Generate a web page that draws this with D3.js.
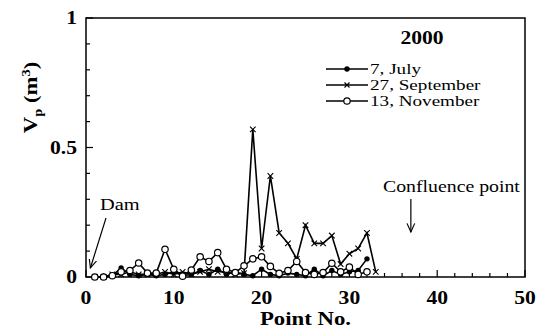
<!DOCTYPE html>
<html>
<head>
<meta charset="utf-8">
<script src="https://cdn.jsdelivr.net/npm/d3@7"></script>
<style>
  body { margin: 0; background: #fff; }
  svg { display: block; }
  text { font-family: "Liberation Serif", "Times New Roman", serif; fill: #000; }
</style>
</head>
<body>
<div id="chart"></div>
<script>
// point numbers along the river
const pointsA = d3.range(1, 33)   // July, November: 1..32
const pointsB = d3.range(1, 34)   // September: 1..33

const july = [0, 0, 0.005, 0.035, 0.01, 0.005, 0.01, 0.005, 0.01, 0.02, 0.005, 0.01, 0.025, 0.01, 0.03, 0.01,
              0.02, 0.01, 0.005, 0.03, 0.01, 0.005, 0.015, 0.01, 0.005, 0.03, 0.005, 0.025, 0.01, 0.02, 0.025, 0.07]
const september = [0, 0, 0.01, 0.01, 0.02, 0.01, 0.01, 0.01, 0.02, 0.01, 0.02, 0.01, 0.02, 0.03, 0.02, 0.02,
                   0.01, 0.015, 0.57, 0.11, 0.39, 0.17, 0.13, 0.07, 0.2, 0.13, 0.13, 0.16, 0.05, 0.09, 0.11, 0.17, 0.02]
const november = [0, 0, 0.005, 0.02, 0.025, 0.054, 0.015, 0.015, 0.107, 0.03, 0.003, 0.027, 0.078, 0.06, 0.094, 0.03,
                  0.017, 0.043, 0.07, 0.078, 0.041, 0.014, 0.025, 0.06, 0.017, 0.01, 0.017, 0.053, 0.02, 0.038, 0.01, 0.02]

const seriesNames = ['7, July', '27, September', '13, November']
const xTicks = [0, 10, 20, 30, 40, 50]
const yTicks = [0, 0.5, 1]

const width = 537, height = 333
const margin = {top: 18, right: 12, bottom: 56, left: 86}
const sx = 1.2   // the scanned Times is wider than Liberation Serif

const svg = d3.select('#chart').append('svg')
  .attr('width', width)
  .attr('height', height)

const x = d3.scaleLinear().domain([0, 50]).range([margin.left, width - margin.right])
const y = d3.scaleLinear().domain([0, 1]).range([height - margin.bottom, margin.top])

function label(px, py, str, size, bold, anchor, scale) {
  return svg.append('text')
    .attr('transform', `translate(${px},${py}) scale(${scale || sx},1)`)
    .attr('text-anchor', anchor || 'start')
    .attr('font-size', size)
    .attr('font-weight', bold ? 'bold' : 'normal')
    .text(str)
}

// frame
svg.append('rect')
  .attr('x', x(0)).attr('y', y(1))
  .attr('width', x(50) - x(0)).attr('height', y(0) - y(1))
  .attr('fill', 'none').attr('stroke', '#000').attr('stroke-width', 1.5)

// ticks (inward)
svg.append('g').selectAll('line')
  .data(d3.range(0, 51, 2))
  .join('line')
  .attr('x1', d => x(d)).attr('x2', d => x(d))
  .attr('y1', y(0)).attr('y2', d => y(0) - (d % 10 === 0 ? 7 : 4))
  .attr('stroke', '#000').attr('stroke-width', 1.2)

svg.append('g').selectAll('line')
  .data(d3.range(0, 1.01, 0.1))
  .join('line')
  .attr('y1', d => y(d)).attr('y2', d => y(d))
  .attr('x1', x(0)).attr('x2', (d, i) => x(0) + (i % 5 === 0 ? 7 : 4))
  .attr('stroke', '#000').attr('stroke-width', 1.2)

// tick labels
xTicks.forEach(t => label(x(t), y(0) + 27, String(t), 18, true, 'middle'))
yTicks.forEach(t => label(x(0) - 9, y(t) + 6, t === 0.5 ? '0.5' : String(t), 18, true, 'end'))

label((x(0) + x(50)) / 2, 325, 'Point No.', 19, true, 'middle')

const yl = svg.append('text')
  .attr('transform', `translate(37,${(y(0) + y(1)) / 2 - 50}) rotate(-90) scale(${sx},1)`)
  .attr('text-anchor', 'middle')
  .attr('font-size', 19).attr('font-weight', 'bold')
yl.append('tspan').text('V')
yl.append('tspan').attr('dy', 5).attr('font-size', 12).text('p')
yl.append('tspan').attr('dy', -5).text(' (m')
yl.append('tspan').attr('dy', -7).attr('font-size', 12).text('3')
yl.append('tspan').attr('dy', 7).text(')')

// series
const line = d3.line().x(d => x(d[0])).y(d => y(d[1]))
const sepData = pointsB.map((p, i) => [p, september[i]])
const julData = pointsA.map((p, i) => [p, july[i]])
const novData = pointsA.map((p, i) => [p, november[i]])

function drawX(g, px, py, s) {
  g.append('path')
    .attr('d', `M${px - s},${py - s}L${px + s},${py + s}M${px - s},${py + s}L${px + s},${py - s}`)
    .attr('stroke', '#000').attr('stroke-width', 1.1)
}

const gSep = svg.append('g')
gSep.append('path').datum(sepData).attr('d', line)
  .attr('fill', 'none').attr('stroke', '#000').attr('stroke-width', 1.6)
sepData.forEach(d => drawX(gSep, x(d[0]), y(d[1]), 2.8))

const gJul = svg.append('g')
gJul.append('path').datum(julData).attr('d', line)
  .attr('fill', 'none').attr('stroke', '#000').attr('stroke-width', 1.6)
gJul.selectAll('circle').data(julData).join('circle')
  .attr('cx', d => x(d[0])).attr('cy', d => y(d[1])).attr('r', 2.7)
  .attr('fill', '#000')

const gNov = svg.append('g')
gNov.append('path').datum(novData).attr('d', line)
  .attr('fill', 'none').attr('stroke', '#000').attr('stroke-width', 1.6)
gNov.selectAll('circle').data(novData).join('circle')
  .attr('cx', d => x(d[0])).attr('cy', d => y(d[1])).attr('r', 3.2)
  .attr('fill', '#fff').attr('stroke', '#000').attr('stroke-width', 1.2)

// legend
label(422, 44, '2000', 18, true, 'middle')

const legend = svg.append('g')
seriesNames.forEach((name, i) => {
  const ly = 69 + i * 16
  legend.append('line')
    .attr('x1', 326).attr('x2', 368).attr('y1', ly).attr('y2', ly)
    .attr('stroke', '#000').attr('stroke-width', 1.6)
  if (i === 0) {
    legend.append('circle').attr('cx', 347).attr('cy', ly).attr('r', 2.7).attr('fill', '#000')
  } else if (i === 1) {
    drawX(legend, 347, ly, 2.5)
  } else {
    legend.append('circle').attr('cx', 347).attr('cy', ly).attr('r', 3.2)
      .attr('fill', '#fff').attr('stroke', '#000').attr('stroke-width', 1.2)
  }
  label(370, ly + 5, name, 14.5, false, 'start', 1.32)
})

// annotations
const defs = svg.append('defs')
defs.append('marker')
  .attr('id', 'arrow').attr('viewBox', '0 0 10 10')
  .attr('refX', 9).attr('refY', 5)
  .attr('markerWidth', 8).attr('markerHeight', 8)
  .attr('orient', 'auto')
  .append('path').attr('d', 'M0,1L9,5L0,9').attr('fill', 'none').attr('stroke', '#000').attr('stroke-width', 1.2)

label(100, 210, 'Dam', 17, false)
svg.append('line')
  .attr('x1', 106).attr('y1', 218).attr('x2', x(0.5)).attr('y2', 268)
  .attr('stroke', '#000').attr('stroke-width', 1.2).attr('marker-end', 'url(#arrow)')

label(383, 192, 'Confluence point', 16.5, false)
svg.append('line')
  .attr('x1', x(37)).attr('y1', 199).attr('x2', x(37)).attr('y2', 232)
  .attr('stroke', '#000').attr('stroke-width', 1.2).attr('marker-end', 'url(#arrow)')
</script>
</body>
</html>
